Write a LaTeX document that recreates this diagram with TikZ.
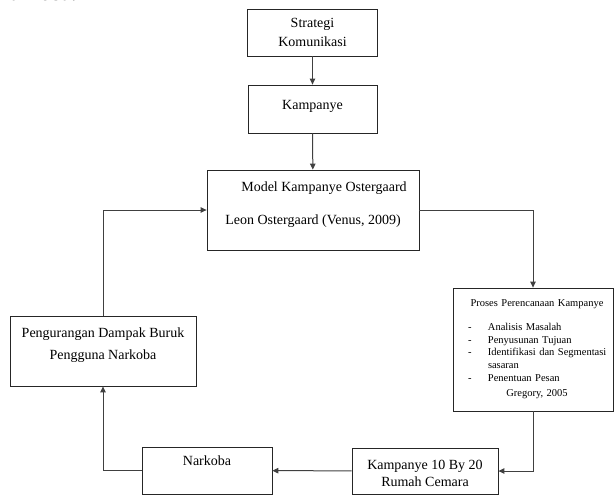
\documentclass[tikz,border=0pt]{standalone}
\usepackage{fontspec}
\setmainfont{Liberation Serif}
\usetikzlibrary{arrows.meta}

\begin{document}
\begin{tikzpicture}[x=1pt,y=-1pt]

	\tikzstyle flow box=[draw=black!85, line width=0.8pt, inner sep=0pt, align=center, font=\fontsize{14}{19}\selectfont];
	\tikzstyle flow lines=[draw=black!75, line width=1pt, -{Triangle[length=6pt,width=5.5pt]}];

	\useasboundingbox (0,0) rectangle (614,496);

	% sisa baris teks di atas gambar
	\node[anchor=base west, inner sep=0pt, font=\fontsize{20}{24}\selectfont\bfseries] (sisa) at (-1,0.5) {narkoba.};

	\node[flow box, minimum width=130pt, minimum height=47pt] (strategi) at (312.5,32.5) {Strategi\\Komunikasi};
	\node[flow box, minimum width=129pt, minimum height=48pt, text depth=9pt] (kampanye) at (312.5,109) {Kampanye};
	\node[flow box, minimum width=212pt, minimum height=80pt, text depth=14pt] (model) at (313,210)
		{\hspace*{22pt}Model Kampanye Ostergaard\\[14pt]Leon Ostergaard (Venus, 2009)};
	\node[flow box, minimum width=160pt, minimum height=123pt, text width=160pt, align=left,
		font=\fontsize{10.5}{12.7}\selectfont] (proses) at (533,349.5)
		{\makebox[160pt]{\hspace*{8pt}Proses Perencanaan Kampanye}\\[11pt]
		\makebox[35pt][l]{\hspace*{15pt}-}Analisis Masalah\\
		\makebox[35pt][l]{\hspace*{15pt}-}Penyusunan Tujuan\\
		\makebox[35pt][l]{\hspace*{15pt}-}Identifikasi dan Segmentasi\\
		\makebox[35pt][l]{}sasaran\\
		\makebox[35pt][l]{\hspace*{15pt}-}Penentuan Pesan\\[3pt]
		\makebox[160pt]{\hspace*{8pt}Gregory, 2005}};
	\node[flow box, minimum width=186pt, minimum height=70pt, text depth=14pt, font=\fontsize{14}{22}\selectfont] (pengurangan) at (103,351)
		{Pengurangan Dampak Buruk\\Pengguna Narkoba};
	\node[flow box, minimum width=146pt, minimum height=46pt, text height=31pt, font=\fontsize{14}{17}\selectfont] (kampanye10) at (425,471)
		{Kampanye 10 By 20\\Rumah Cemara};
	\node[flow box, minimum width=130pt, minimum height=47pt, text depth=19pt] (narkoba) at (207,470.5) {Narkoba};

	\draw[flow lines] (strategi) -- (kampanye);
	\draw[flow lines] (kampanye) -- (model);
	\draw[flow lines] (model.east) -| (proses.north);
	\draw[flow lines] (proses.south) |- (kampanye10.east);
	\draw[flow lines] (kampanye10) -- (narkoba);
	\draw[flow lines] (narkoba.west) -| (pengurangan.south);
	\draw[flow lines] (pengurangan.north) |- (model.west);

\end{tikzpicture}
\end{document}
